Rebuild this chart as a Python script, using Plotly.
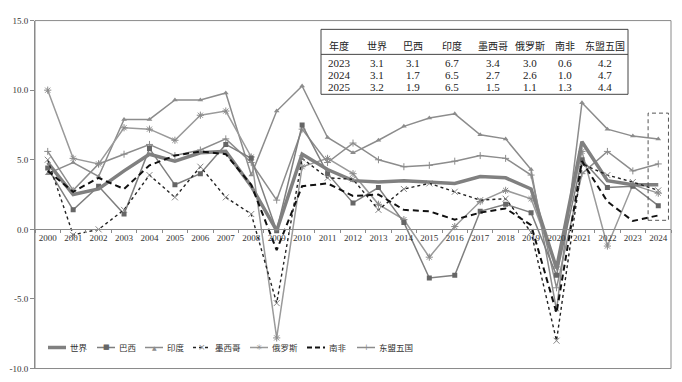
import plotly.graph_objects as go

W, H = 682, 382

# ---------------- data ----------------
years = ["2000", "2001", "2002", "2003", "2004", "2005", "2006", "2007", "2008", "2009",
         "2010", "2011", "2012", "2013", "2014", "2015", "2016", "2017", "2018", "2019",
         "2020", "2021", "2022", "2023", "2024"]
world = [4.8, 2.5, 2.9, 4.2, 5.4, 4.9, 5.5, 5.6, 3.1, -0.1, 5.4, 4.3, 3.5, 3.4, 3.5,
         3.4, 3.3, 3.8, 3.7, 2.9, -2.8, 6.3, 3.5, 3.2, 3.2]
brazil = [4.4, 1.4, 3.1, 1.1, 5.8, 3.2, 4.0, 6.1, 5.1, -0.1, 7.5, 4.0, 1.9, 3.0, 0.5,
          -3.5, -3.3, 1.3, 1.8, 1.2, -3.3, 5.0, 3.0, 3.1, 1.7]
india = [4.0, 4.8, 3.8, 7.9, 7.9, 9.3, 9.3, 9.8, 3.9, 8.5, 10.3, 6.6, 5.5, 6.4, 7.4,
         8.0, 8.3, 6.8, 6.5, 4.3, -5.8, 9.1, 7.2, 6.7, 6.5]
mexico = [5.0, -0.4, 0.0, 1.4, 3.9, 2.3, 4.5, 2.3, 1.1, -5.3, 5.1, 3.7, 3.6, 1.4, 2.9,
          3.3, 2.7, 2.1, 2.2, -0.2, -8.0, 4.7, 3.9, 3.4, 2.8]
russia = [10.0, 5.1, 4.7, 7.3, 7.2, 6.4, 8.2, 8.5, 5.2, -7.8, 4.5, 5.1, 4.0, 1.8, 0.7,
          -2.0, 0.2, 2.0, 2.8, 2.2, -2.7, 5.6, -1.2, 3.2, 2.6]
south_africa = [4.2, 2.7, 3.7, 2.9, 4.6, 5.3, 5.6, 5.4, 3.2, -1.5, 3.1, 3.3, 2.4, 2.5, 1.4,
                1.3, 0.7, 1.2, 1.5, 0.3, -6.0, 4.9, 2.0, 0.6, 1.0]
asean5 = [5.6, 2.8, 4.7, 5.4, 6.1, 5.3, 5.7, 6.5, 4.8, 2.1, 7.2, 4.8, 6.2, 5.0, 4.5,
          4.6, 4.9, 5.3, 5.1, 3.9, -4.2, 4.0, 5.6, 4.2, 4.7]

y_tick_vals = [-10, -5, 0, 5, 10, 15]
y_tick_text = ["-10.0", "-5.0", "0.0", "5.0", "10.0", "15.0"]

table_header = ["年度", "世界", "巴西", "印度", "墨西哥", "俄罗斯", "南非", "东盟五国"]
table_rows = [
    ["2023", "3.1", "3.1", "6.7", "3.4", "3.0", "0.6", "4.2"],
    ["2024", "3.1", "1.7", "6.5", "2.7", "2.6", "1.0", "4.7"],
    ["2025", "3.2", "1.9", "6.5", "1.5", "1.1", "1.3", "4.4"],
]
highlight_year = "2024"
highlight_low, highlight_high = 0.65, 8.35

# ---------------- layout helpers ----------------
def px(x):
    return x / W

def py(y):
    return 1 - y / H

XDOM = [px(35), px(671)]
YDOM = [py(373.3), py(16)]
YMIN, YMAX = -10, 15
zero_pos = YDOM[0] + (0 - YMIN) / (YMAX - YMIN) * (YDOM[1] - YDOM[0])

GRAY = "#8c8c8c"
SERIF = "Liberation Serif, Noto Sans CJK SC"
CJK = "Noto Sans CJK SC, Liberation Serif"

series = [
    dict(name="印度", y=india, line=dict(color=GRAY, width=1.5),
         marker=dict(symbol="triangle-up", size=5, color=GRAY)),
    dict(name="俄罗斯", y=russia, line=dict(color="#9a9a9a", width=1.5),
         marker=dict(symbol="asterisk-open", size=6, color="#8a8a8a", line=dict(width=1, color="#8a8a8a"))),
    dict(name="东盟五国", y=asean5, line=dict(color=GRAY, width=1.5),
         marker=dict(symbol="cross-thin-open", size=5, color=GRAY, line=dict(width=1, color=GRAY))),
    dict(name="巴西", y=brazil, line=dict(color="#7f7f7f", width=1.5),
         marker=dict(symbol="square", size=5, color="#666666")),
    dict(name="世界", y=world, line=dict(color="#808080", width=3.5), marker=None),
    dict(name="墨西哥", y=mexico, line=dict(color="#222222", width=1.4, dash="dot"),
         marker=dict(symbol="x-thin-open", size=6, color="#888888", line=dict(width=1, color="#888888"))),
    dict(name="南非", y=south_africa, line=dict(color="#111111", width=2, dash="6px,4px"), marker=None),
]

fig = go.Figure()
for s in series:
    kw = dict(x=years, y=s["y"], name=s["name"], line=s["line"], showlegend=False,
              hoverinfo="skip")
    if s["marker"] is not None:
        kw["mode"] = "lines+markers"
        kw["marker"] = s["marker"]
    else:
        kw["mode"] = "lines"
    fig.add_trace(go.Scatter(**kw))

shapes = []
annotations = []

# plot-area frame
shapes.append(dict(type="rect", xref="paper", yref="paper", x0=XDOM[0], x1=XDOM[1],
                   y0=YDOM[0], y1=YDOM[1], line=dict(color="#8a8a8a", width=1),
                   layer="above"))

# dashed highlight box around last year
hi = years.index(highlight_year)
shapes.append(dict(type="rect", xref="x", yref="y", x0=hi - 0.4, x1=hi + 0.4,
                   y0=highlight_low, y1=highlight_high,
                   line=dict(color="#555555", width=1, dash="4px,3px")))

# table
TL, TR, TT, TB = 321, 628, 25, 91.7
shapes.append(dict(type="rect", xref="paper", yref="paper", x0=px(TL), x1=px(TR),
                   y0=py(TB), y1=py(TT), line=dict(color="#444444", width=1),
                   fillcolor="white"))
shapes.append(dict(type="line", xref="paper", yref="paper", x0=px(TL), x1=px(TR),
                   y0=py(50.7), y1=py(50.7), line=dict(color="#444444", width=1)))
col_x = [339, 377, 413, 452, 493, 530, 565, 605]
for cx, txt in zip(col_x, table_header):
    annotations.append(dict(xref="paper", yref="paper", x=px(cx), y=py(41.7), text=txt,
                            showarrow=False, xanchor="center", yanchor="middle",
                            font=dict(family=CJK, size=10, color="#222222")))
row_y = [59.5, 71.7, 84]
for ry, row in zip(row_y, table_rows):
    for cx, txt in zip(col_x, row):
        annotations.append(dict(xref="paper", yref="paper", x=px(cx), y=py(ry), text=txt,
                                showarrow=False, xanchor="center", yanchor="middle",
                                font=dict(family=SERIF, size=11, color="#222222")))

# manual legend
LY = 351.7
legend_items = [
    ("世界", 48, dict(color="#808080", width=3.5), None),
    ("巴西", 97, dict(color="#7f7f7f", width=1.5), ("■", "#666666", 7)),
    ("印度", 145, dict(color=GRAY, width=1.5), ("▲", GRAY, 6)),
    ("墨西哥", 193, dict(color="#222222", width=1.4, dash="dot"), ("×", "#888888", 9)),
    ("俄罗斯", 250, dict(color="#9a9a9a", width=1.5), ("✳", "#8a8a8a", 8)),
    ("南非", 307, dict(color="#111111", width=2, dash="5px,3px"), None),
    ("东盟五国", 357, dict(color=GRAY, width=1.5), ("+", GRAY, 8)),
]
for name, x0, ln, glyph in legend_items:
    shapes.append(dict(type="line", xref="paper", yref="paper", x0=px(x0), x1=px(x0 + 18),
                       y0=py(LY), y1=py(LY), line=ln))
    if glyph:
        annotations.append(dict(xref="paper", yref="paper", x=px(x0 + 9), y=py(LY),
                                text=glyph[0], showarrow=False, xanchor="center",
                                yanchor="middle",
                                font=dict(family="DejaVu Sans", size=glyph[2], color=glyph[1])))
    annotations.append(dict(xref="paper", yref="paper", x=px(x0 + 20), y=py(LY), text=name,
                            showarrow=False, xanchor="left", yanchor="middle",
                            font=dict(family=CJK, size=8.5, color="#333333")))

fig.update_layout(
    width=W, height=H,
    margin=dict(l=0, r=0, t=0, b=0),
    paper_bgcolor="white", plot_bgcolor="white",
    showlegend=False,
    xaxis=dict(type="category", domain=XDOM, range=[-0.5, len(years) - 0.5],
               anchor="free", position=zero_pos, showline=True, linecolor="#8a8a8a",
               linewidth=1, ticks="outside", tickson="boundaries", ticklen=3,
               tickcolor="#8a8a8a", showgrid=False, zeroline=False,
               tickfont=dict(family=SERIF, size=9, color="#333333"), tickangle=0),
    yaxis=dict(domain=YDOM, range=[YMIN, YMAX], tickvals=y_tick_vals, ticktext=y_tick_text,
               showline=True, linecolor="#8a8a8a", linewidth=1, ticks="outside",
               ticklen=4, tickcolor="#8a8a8a", showgrid=False, zeroline=False,
               tickfont=dict(family=SERIF, size=9, color="#333333")),
    shapes=shapes,
    annotations=annotations,
)

fig.write_html("out.html", config={"displayModeBar": False, "staticPlot": True},
               post_script="document.body.style.margin='0';")
